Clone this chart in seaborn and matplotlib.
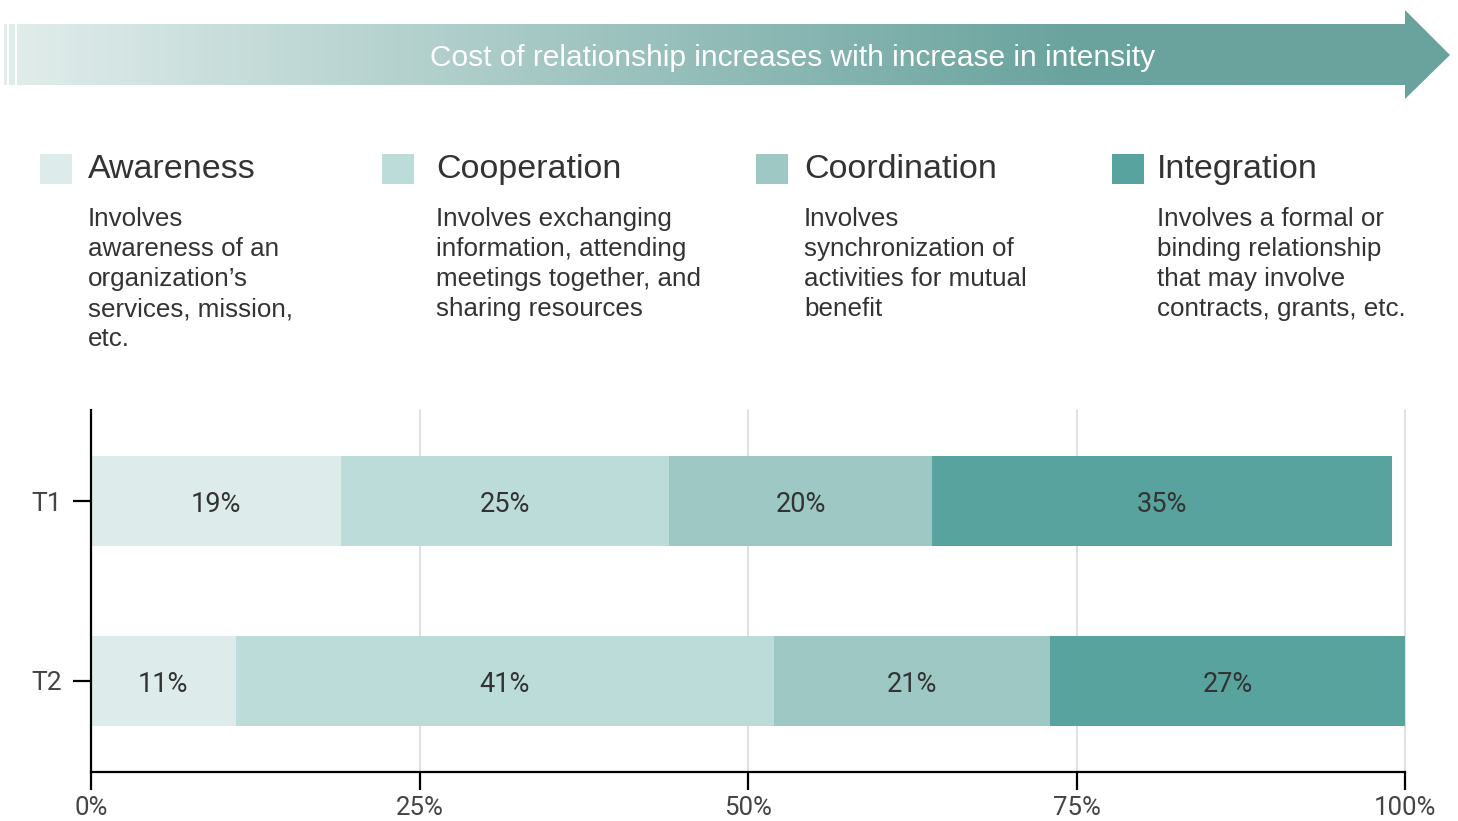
import numpy as np
import pandas as pd
import seaborn as sns
import matplotlib.pyplot as plt
from matplotlib.colors import LinearSegmentedColormap
from matplotlib.patches import Polygon, Rectangle, PathPatch
from matplotlib.path import Path

# data
periods = ['T1', 'T2']
levels = ['Awareness', 'Cooperation', 'Coordination', 'Integration']
awareness = [19, 11]
cooperation = [25, 41]
coordination = [20, 21]
integration = [35, 27]
colors = ['#ddecea', '#bcdcd9', '#9dc8c4', '#58a39d']
descriptions = [
    'Involves\nawareness of an\norganization\u2019s\nservices, mission,\netc.',
    'Involves exchanging\ninformation, attending\nmeetings together, and\nsharing resources',
    'Involves\nsynchronization of\nactivities for mutual\nbenefit',
    'Involves a formal or\nbinding relationship\nthat may involve\ncontracts, grants, etc.',
]
banner_text = 'Cost of relationship increases with increase in intensity'
xticks = [0, 25, 50, 75, 100]

df = pd.DataFrame({'period': periods, 'Awareness': awareness, 'Cooperation': cooperation,
                   'Coordination': coordination, 'Integration': integration})
long = df.melt(id_vars='period', var_name='level', value_name='share')
long['end'] = long.groupby('period')['share'].cumsum()
long['start'] = long['end'] - long['share']

sns.set_style('white')
plt.rcParams['font.family'] = ['Liberation Sans', 'DejaVu Sans']

W, H = 1458, 821
fig = plt.figure(figsize=(W / 100, H / 100), dpi=100)
ax = fig.add_axes([91 / W, 1 - 772 / H, 1314 / W, 362 / H])

# stacked bars: draw cumulative totals from the back to the front
for lvl, col in reversed(list(zip(levels, colors))):
    sub = long[long['level'] == lvl]
    sns.barplot(data=sub, x='end', y='period', order=periods, orient='h', color=col,
                saturation=1, width=0.5, errorbar=None, linewidth=0, ax=ax, zorder=2)

for _, r in long.iterrows():
    ax.text((r['start'] + r['end']) / 2, periods.index(r['period']) + 0.022, f"{r['share']}%",
            ha='center', va='center', fontsize=19.5, color='#333333',
            fontfamily='Roboto', zorder=3)

ax.set_xlim(0, 100)
ax.set_ylim(1.506, -0.506)
ax.set_xlabel('')
ax.set_ylabel('')
ax.set_xticks(xticks, [f'{t}%' for t in xticks], fontfamily='Roboto', fontsize=18.5, color='#444444')
ax.set_yticks(range(len(periods)), periods, fontfamily='Roboto', fontsize=19, color='#444444')
ax.grid(axis='x', color='#e0e0e0', lw=1.4)
for gl in ax.get_xgridlines():
    gl.set_clip_on(False)
ax.set_axisbelow(True)
for s in ['top', 'right']:
    ax.spines[s].set_visible(False)
for s in ['left', 'bottom']:
    ax.spines[s].set_linewidth(1.6)
    ax.spines[s].set_color('black')
ax.tick_params(axis='both', bottom=True, left=True, length=13, width=1.6, color='black')
ax.tick_params(axis='y', pad=8)
ax.tick_params(axis='x', pad=4)

# decoration layer in pixel coordinates: banner arrow and legend
deco = fig.add_axes([0, 0, 1, 1])
deco.patch.set_visible(False)

cmap = LinearSegmentedColormap.from_list('band', [(0, '#e1edeb'), (0.74, '#6aa39e'), (1, '#6aa39e')])
grad = np.linspace(0, 1, 512).reshape(1, -1)
im = deco.imshow(grad, cmap=cmap, extent=[4, 1450, 99, 10], aspect='auto', interpolation='bicubic')
stripes = [Rectangle((4, 24), 3, 61), Rectangle((9, 24), 6, 61)]
shapes = [Polygon([(17, 24), (1405, 24), (1405, 10), (1450, 55), (1405, 99), (1405, 85), (17, 85)]).get_path()]
shapes += [r.get_path().transformed(r.get_patch_transform()) for r in stripes]
clip = PathPatch(Path.make_compound_path(*shapes), transform=deco.transData,
                 facecolor='none', edgecolor='none')
deco.add_patch(clip)
im.set_clip_path(clip)
deco.text(793, 66, banner_text, ha='center', va='baseline', color='white', fontsize=21.5)

sq_x = [40, 382, 756, 1112]
txt_x = [88, 436, 804, 1157]
for i, lvl in enumerate(levels):
    deco.add_patch(Rectangle((sq_x[i], 154), 32, 30, facecolor=colors[i], edgecolor='none'))
    deco.text(txt_x[i], 178, lvl, ha='left', va='baseline', fontsize=24.5, color='#333333')
    for j, line in enumerate(descriptions[i].split('\n')):
        deco.text(txt_x[i], 226 + 30 * j, line, ha='left', va='baseline', fontsize=18.7, color='#333333')

deco.set_xlim(0, W)
deco.set_ylim(H, 0)
deco.axis('off')

fig.savefig('out.png', dpi=100)
